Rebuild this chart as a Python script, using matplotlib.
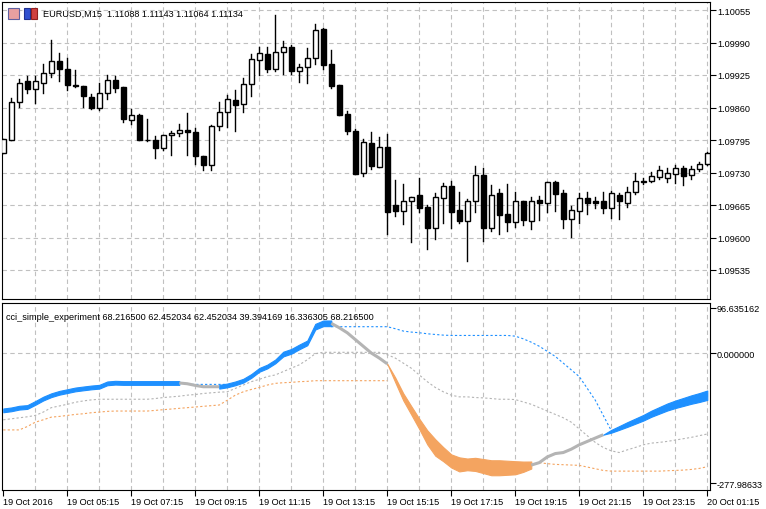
import numpy as np
import matplotlib
matplotlib.use("Agg")
import matplotlib.pyplot as plt
from matplotlib.patches import Rectangle

plt.rcParams['font.family'] = ['Liberation Sans', 'DejaVu Sans']

# ---- price data (points, x1e-5) ----
opens = [109769,109796,109872,109912,109898,109910,109930,109954,109938,109906,109904,109882,109860,109890,109916,109901,109836,109844,109796,109796,
         109780,109805,109810,109816,109812,109764,109746,109823,109852,109875,109868,109908,109956,109967,109937,109972,109982,109934,109942,109960,
         110017,109946,109905,109847,109813,109730,109790,109742,109782,109665,109654,109674,109685,109661,109620,109680,109703,109655,109634,109674,
         109725,109620,109689,109648,109632,109673,109634,109675,109670,109711,109688,109638,109654,109678,109673,109673,109660,109686,109670,109692,
         109712,109714,109722,109720,109728,109738,109725,109738,109748]
highs = [109797,109879,109917,109924,109924,109947,109995,109970,109960,109935,109904,109888,109910,109925,109924,109902,109858,109847,109837,109804,
         109806,109813,109828,109850,109820,109764,109826,109871,109885,109896,109919,109967,109982,109982,110045,109993,109986,109947,109979,110028,
         110020,109975,109905,109853,109817,109798,109812,109801,109807,109715,109707,109682,109720,109666,109689,109709,109713,109692,109677,109744,
         109740,109705,109698,109708,109692,109673,109681,109683,109712,109713,109696,109664,109689,109692,109682,109692,109694,109690,109702,109730,
         109720,109731,109744,109739,109746,109744,109744,109751,109772]
lows = [109769,109796,109862,109889,109870,109890,109922,109914,109895,109902,109862,109858,109856,109878,109892,109832,109828,109796,109794,109760,
        109776,109766,109804,109766,109748,109736,109736,109816,109822,109814,109852,109884,109926,109932,109934,109928,109928,109912,109910,109948,
        109937,109899,109846,109807,109728,109724,109737,109742,109607,109644,109627,109592,109652,109578,109598,109630,109619,109630,109554,109652,
        109594,109614,109607,109614,109622,109625,109618,109636,109652,109654,109619,109602,109630,109647,109659,109650,109639,109637,109661,109687,
        109707,109712,109717,109712,109709,109706,109717,109734,109745]
closes = [109797,109872,109910,109898,109912,109930,109954,109937,109906,109904,109884,109860,109890,109916,109900,109838,109844,109796,109795,109780,
          109805,109810,109816,109812,109764,109746,109823,109852,109877,109866,109908,109956,109969,109937,109972,109982,109934,109942,109960,110016,
          109946,109904,109846,109814,109728,109790,109744,109780,109652,109654,109674,109682,109660,109620,109682,109702,109652,109634,109674,109725,
          109620,109686,109646,109632,109673,109636,109674,109670,109711,109688,109638,109655,109678,109670,109670,109660,109688,109674,109692,109712,
          109714,109722,109736,109730,109740,109724,109738,109748,109769]

x_labels = ["19 Oct 2016", "19 Oct 05:15", "19 Oct 07:15", "19 Oct 09:15", "19 Oct 11:15", "19 Oct 13:15",
            "19 Oct 15:15", "19 Oct 17:15", "19 Oct 19:15", "19 Oct 21:15", "19 Oct 23:15", "20 Oct 01:15"]
price_ticks = [1.10055, 1.09990, 1.09925, 1.09860, 1.09795, 1.09730, 1.09665, 1.09600, 1.09535]

# ---- indicator data ----
cci_main = [-122.5,-120.3,-116.7,-115.3,-106.6,-97.3,-90.1,-85.0,-81.4,-77.8,-75.6,-73.5,-72.0,-64.8,-63.4,-64,-64,-64,-64,-64,
            -64,-64,-64,-65.6,-69.2,-72.0,-72.0,-72.0,-69.2,-64.8,-59.1,-49.0,-36.0,-28.8,-18.0,-2.2,3.6,13.0,21.6,56.2,
            63.4,63.4,54.0,43.2,28.8,14.4,0.0,-10.8,-23.1,-57.6,-93.7,-122.5,-151.3,-180.1,-201.7,-216.1,-230.5,-237.8,-237.8,-237.8,
            -241.4,-245,-245,-245,-245,-242.8,-239.2,-234.1,-221.9,-214.7,-212.5,-205.3,-196,-188.8,-181.6,-174.4,-167.1,-160,-152.7,-145.5,
            -138.3,-129.7,-122.5,-115.3,-109.5,-104.5,-99.4,-95.1,-90.1]
cci_width = [8]*35 + [10,10,10,10,12,12,12] + [0]*7 + \
            [10,15,18,22,30,35,30,28,30,25,28,30,32,32,30,28,22,15,5] + [0]*8 + \
            [6,8,10,11,12,13,14,15,16,17,18,19,20]
cci_state = "B"*23 + "G"*5 + "B"*14 + "G"*7 + "O"*18 + "G"*9 + "B"*13

nan = np.nan
upper_band = [nan]*23 + [-67]*6 + [nan]*12 + \
             [56.2,56.2,56.2,56.2,56.2,56.2,56.2,56.2,51.9,46.9,44.7,43.3,41.1,39.6,38.2,37.5,37.5,37.5,37.5,37.5,
              37.5,37.5,37.5,36.0,30.3,23.1,14.4,3.6,-7.2,-21.6,-36.0,-50.4,-75.6,-100.8,-133.3,-165.7] + [nan]*12
mid_band = [-142.6,-140.5,-138.3,-136.2,-133.3,-126.1,-116.7,-113.1,-109.5,-105.2,-102.3,-100.1,-98.7,-98.7,-98.7,-98.7,-98.7,-98.7,-98.7,-97.2,
            -95.1,-93.6,-92.2,-90.0,-88.6,-86.4,-85.0,-83.6,-82.8,-75.6,-68.4,-61.2,-56.2,-50.4,-46.8,-39.6,-32.4,-25.2,-14.4,-1.4,
            1.5,1.5,1.5,1.5,1.5,1.5,1.5,1.5,-3.6,-10.8,-21.6,-32.4,-46.8,-61.2,-73.5,-82.8,-90.0,-93.6,-93.6,-95.1,
            -95.8,-97.2,-98.7,-98.7,-99.4,-104.5,-109.5,-116.7,-123.9,-131.1,-138.3,-147.7,-162.1,-176.5,-190.9,-201.7,-208.9,-212.5,-206.8,-201.7,
            -196.0,-192.4,-190.9,-188.7,-185.9,-183.0,-180.1,-176.5,-172.9]
lower_band = [-164.2,-164.2,-164.2,-157.0,-147.7,-142.6,-136.9,-135.4,-133.3,-131.1,-129.7,-127.5,-126.1,-124.6,-123.9,-123.9,-123.9,-123.9,-123.9,-122.5,
              -121.0,-119.6,-118.1,-116.7,-115.3,-113.8,-112.4,-111.0,-100.8,-90.0,-82.8,-77.8,-73.5,-68.4,-64.8,-63.4,-62.7,-61.2,-60.5,-59.1,
              -59.1,-59.1,-59.1,-59.1,-59.1,-59.1,-59.1,-59.1,-59.1] + [nan]*18 + \
             [-234.1,-236.3,-237.8,-238.5,-239.2,-239.9,-243.5,-247.1,-250.7,-252.2,-252.2,-252.2,-252.2,-252.2,-252.2,-252.2,-251.4,-250.7,-250.0,-248.6,
              -246.4,-242.8]
ind_ticks = [96.635162, 0.0, -277.98633]
ind_tick_labels = ["96.635162", "0.000000", "-277.98633"]

# ---- figure ----
W, H = 766, 510
fig = plt.figure(figsize=(W/100, H/100), dpi=100)
ax1 = fig.add_axes([2/W, (H-300)/H, 708/W, 297/H])
ax2 = fig.add_axes([2/W, (H-491)/H, 708/W, 187/H])

n = len(opens)
xs = np.arange(n)
GRID = dict(color='#c0c0c0', lw=0.8, ls=(0, (4, 3)))
FS = 6.6

for ax in (ax1, ax2):
    ax.set_xlim(-0.16, 88.34)
    for gx in range(4, n, 4):
        ax.axvline(gx, zorder=0, **GRID)
    ax.yaxis.tick_right()
    ax.tick_params(axis='y', direction='out', length=4, labelsize=FS, pad=1, width=0.8)
    for s in ax.spines.values():
        s.set_linewidth(0.8)

# candles
o = np.array(opens)/1e5; h = np.array(highs)/1e5; l = np.array(lows)/1e5; c = np.array(closes)/1e5
for i in range(n):
    ax1.plot([i, i], [l[i], h[i]], color='black', lw=1, zorder=2)
    lo, hi = min(o[i], c[i]), max(o[i], c[i])
    fc = 'white' if c[i] >= o[i] else 'black'
    ax1.add_patch(Rectangle((i-0.3, lo), 0.6, max(hi-lo, 0.000008), facecolor=fc,
                            edgecolor='black', lw=1, zorder=3))
ax1.set_ylim(1.09477, 1.10071)
ax1.set_yticks(price_ticks)
ax1.set_yticklabels([f"{p:.5f}" for p in price_ticks])
for p in price_ticks:
    ax1.axhline(p, zorder=0, **GRID)
ax1.set_xticks([])
ax1.text(41/708, 1-11/297, "EURUSD,M15  1.11088 1.11143 1.11064 1.11134", transform=ax1.transAxes,
         fontsize=FS, va='center', ha='left')
# small header icons
ax1.add_patch(Rectangle((6/708, 1-17/297), 11/708, 11/297, transform=ax1.transAxes, facecolor='#e8a0a0', edgecolor='#6060a0', lw=0.8, zorder=5))
ax1.add_patch(Rectangle((22/708, 1-17/297), 6/708, 11/297, transform=ax1.transAxes, facecolor='#3050d0', edgecolor='#203090', lw=0.8, zorder=5))
ax1.add_patch(Rectangle((29/708, 1-17/297), 6/708, 11/297, transform=ax1.transAxes, facecolor='#d04040', edgecolor='#902020', lw=0.8, zorder=5))

# indicator
ax2.set_ylim(-292.5, 106.8)
ax2.axhline(0, zorder=0, **GRID)
main = np.array(cci_main); wid = np.array(cci_width, float)
cols = {'B': '#1e90ff', 'G': '#b4b4b4', 'O': '#f4a460'}
ax2.plot(xs, mid_band, color='#b4b4b4', lw=0.8, ls=(0, (2, 2)), zorder=2)
ax2.plot(xs, lower_band, color='#f4a460', lw=0.8, ls=(0, (2, 2)), zorder=2)
ax2.plot(xs, upper_band, color='#1e90ff', lw=0.8, ls=(0, (2, 2)), zorder=2)
i = 0
while i < n:
    j = i
    while j + 1 < n and cci_state[j+1] == cci_state[i]:
        j += 1
    a = max(i-1, 0)
    seg = slice(a, j+1)
    col = cols[cci_state[i]]
    if cci_state[i] == 'G':
        ax2.plot(xs[seg], main[seg], color=col, lw=2.2, zorder=3, solid_capstyle='butt')
    else:
        ax2.fill_between(xs[seg], main[seg]-wid[seg]/2, main[seg]+wid[seg]/2, color=col, lw=0.8,
                         edgecolor=col, zorder=3)
    i = j + 1
ax2.text(4/708, 1-13/187, "cci_simple_experiment 68.216500 62.452034 62.452034 39.394169 16.336305 68.216500",
         transform=ax2.transAxes, fontsize=FS, va='center', ha='left')
ax2.set_yticks(ind_ticks)
ax2.set_yticklabels(ind_tick_labels)
ax2.set_xticks(range(0, n, 8))
ax2.set_xticklabels(x_labels)
ax2.tick_params(axis='x', direction='out', length=4, labelsize=FS, pad=1, width=0.8)
for t in ax2.get_xticklabels():
    t.set_ha('left')

fig.savefig("out.png", dpi=100)
